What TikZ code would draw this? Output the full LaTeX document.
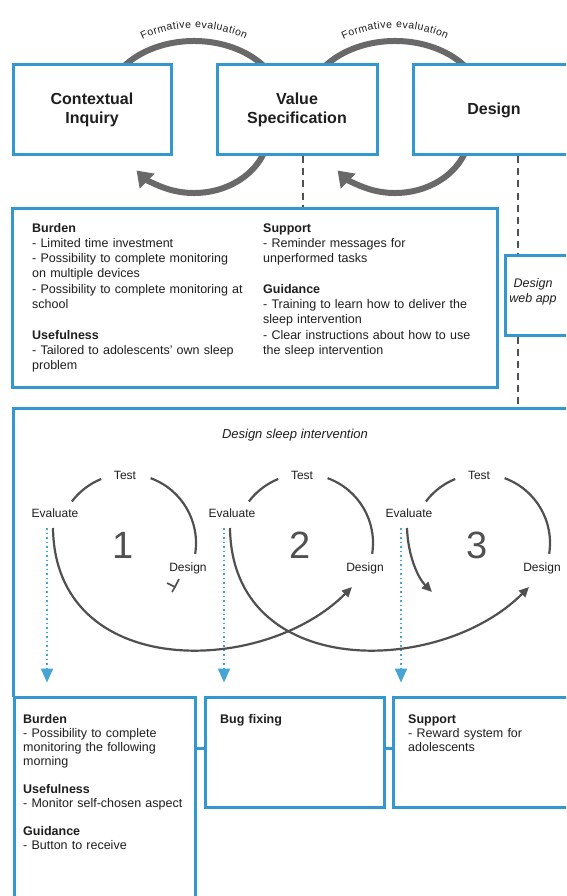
\documentclass[tikz,border=0pt]{standalone}
\usepackage{fontspec}
\setmainfont{Liberation Sans}
\usetikzlibrary{arrows.meta,decorations.text}
\definecolor{bluebox}{RGB}{52,152,208}
\definecolor{dotblue}{RGB}{70,165,215}
\definecolor{arcgray}{RGB}{105,105,105}
\definecolor{loopgray}{RGB}{80,80,80}
\definecolor{txt}{RGB}{30,30,30}
\begin{document}
\begin{tikzpicture}[x=1pt,y=-1pt,
  boxstyle/.style={draw=bluebox,line width=3pt,fill=white,inner sep=0pt},
  bigline/.style={draw=bluebox,line width=3pt},
  thickarc/.style={draw=arcgray,line width=6pt},
  thickarrow/.style={thickarc,-{Triangle[length=15pt,width=20pt]}},
  loopline/.style={draw=loopgray,line width=2.2pt},
  looparrow/.style={loopline,-{Triangle[length=10pt,width=9pt]}},
  dashline/.style={draw=loopgray,line width=2pt,dash pattern=on 7pt off 5pt},
  dotarrow/.style={draw=dotblue,line width=2pt,dash pattern=on 1.5pt off 3pt,-{Triangle[length=14pt,width=12pt]}},
  titletext/.style={font=\fontsize{16}{19.5}\selectfont\bfseries,text=txt,align=center},
  bodytext/.style={font=\fontsize{12.5}{15.3}\selectfont,text=txt,align=left,inner sep=0pt,anchor=base west},
  looplabel/.style={font=\fontsize{12}{14}\selectfont,text=txt,inner sep=1pt},
  digit/.style={font=\fontsize{38}{40}\selectfont,text=loopgray,inner sep=0pt},
]
\useasboundingbox (0,0) rectangle (566,896);
\clip (0,0) rectangle (566,896);
\fill[white] (0,0) rectangle (566,896);

% formative evaluation arcs
\foreach \cx in {194,395}{
  \draw[thickarc] ([shift={(200:88 and 64)}]\cx,105) arc[start angle=200,end angle=340,x radius=88,y radius=64];
  \draw[thickarrow] ([shift={(20:75 and 63)}]\cx,130) arc[start angle=20,end angle=140,x radius=75,y radius=63];
  \path[decorate,decoration={text effects along path,
     text={Formative evaluation},text align=center,
     text effects/.cd,
       text along path,
       character widths={inner xsep=0.35pt},
       characters={text=txt,font=\fontsize{10.5}{12}\selectfont,inner sep=0pt}}]
     ([shift={(200:99 and 77)}]\cx,105) arc[start angle=200,end angle=340,x radius=99,y radius=77];
}

% top boxes
\node[boxstyle,minimum width=158pt,minimum height=90pt,titletext] (ci) at (92,110) {Contextual\\Inquiry};
\node[boxstyle,minimum width=160pt,minimum height=90pt,titletext] (vs) at (297,110) {Value\\Specification};
\node[boxstyle,minimum width=162pt,minimum height=90pt,titletext] (de) at (494,110) {Design};

% requirements box
\node[boxstyle,minimum width=485pt,minimum height=179pt] (req) at (254.5,297.5) {};
\node[bodytext,text width=225pt] (reqL) at (32,232) {\textbf{Burden}\\- Limited time investment\\- Possibility to complete monitoring\\on multiple devices\\- Possibility to complete monitoring at\\school\\[15.3pt]\textbf{Usefulness}\\- Tailored to adolescents' own sleep\\problem};
\node[bodytext,text width=225pt] (reqR) at (263,232) {\textbf{Support}\\- Reminder messages for\\unperformed tasks\\[15.3pt]\textbf{Guidance}\\- Training to learn how to deliver the\\sleep intervention\\- Clear instructions about how to use\\the sleep intervention};

% web app box
\node[boxstyle,minimum width=95pt,minimum height=80pt] (wa) at (552.5,295) {};
\node[font=\fontsize{12.5}{15}\selectfont\itshape,text=txt,align=center] (wat) at (533,292) {Design\\web app};

% dashed connectors
\coordinate (bigtl) at (13,408);
\coordinate (bigbl) at (13,697);
\draw[dashline] ([xshift=6pt]vs.south) -- ([xshift=6pt]vs.south |- req.north);
\draw[dashline] ([xshift=24pt]de.south) -- ([xshift=24pt]de.south |- wa.north);
\draw[dashline] ([xshift=24pt]de.south |- wa.south) -- ([xshift=24pt]de.south |- bigtl);

% big box
\draw[bigline] (bigbl) -- (bigtl) -- (590,408);
\node[font=\fontsize{13}{15}\selectfont\itshape,text=txt] (dsi) at (295,435) {Design sleep intervention};

% cycles
\foreach \k/\d in {0/1,1/2,2/3}{
  \pgfmathsetmacro\ox{177*\k}
  \begin{scope}[shift={(\ox,0)}]
    \node[looplabel] (te\d) at (125,475) {Test};
    \node[looplabel] (ev\d) at (55,513) {Evaluate};
    \node[looplabel] (ds\d) at (188,568) {Design};
    \node[digit] (n\d) at (123,545) {\d};
    \draw[loopline] ([shift={(-143:69)}]127,543) arc[start angle=-143,end angle=-112,radius=69];
    \draw[loopline] ([shift={(-70:69)}]127,543) arc[start angle=-70,end angle=9,radius=69];
    \coordinate (es\d) at (53,528);
    \coordinate (et\d) at (175,587);
  \end{scope}
}
\coordinate (e3end) at (432,592);
\draw[looparrow] (es1) .. controls +(2,152) and +(-90,90) .. (et2);
\draw[looparrow] (es2) .. controls +(2,152) and +(-90,90) .. (et3);
\draw[looparrow] (es3) .. controls +(1,28) and +(-14,-14) .. (e3end);
\draw[loopgray,line width=1.6pt] (et1) ++(-8,-4) -- (et1) -- ++(4,-8) (et1) -- ++(-3,5);

% bottom boxes
\node[boxstyle,minimum width=181pt,minimum height=213pt] (b1) at (104.5,803.5) {};
\node[boxstyle,minimum width=179pt,minimum height=110pt] (b2) at (294.5,752) {};
\node[boxstyle,minimum width=187pt,minimum height=110pt] (b3) at (486.5,752) {};
\coordinate (lk) at (0,748);
\draw[bigline] (b1.east |- lk) -- (b2.west |- lk);
\draw[bigline] (b2.east |- lk) -- (b3.west |- lk);

% dotted arrows
\foreach \d/\x in {1/47,2/224,3/401}{
  \coordinate (dt\d) at (\x,528);
}
\draw[dotarrow,shorten >=13pt] (dt1) -- (dt1 |- b1.north);
\draw[dotarrow,shorten >=13pt] (dt2) -- (dt2 |- b2.north);
\draw[dotarrow,shorten >=13pt] (dt3) -- (dt3 |- b3.north);

% bottom texts
\node[bodytext,font=\fontsize{12.5}{14}\selectfont,text width=170pt] (t1) at (23,723) {\textbf{Burden}\\- Possibility to complete\\monitoring the following\\morning\\[14pt]\textbf{Usefulness}\\- Monitor self-chosen aspect\\[14pt]\textbf{Guidance}\\- Button to receive};
\node[bodytext,font=\fontsize{12.5}{14}\selectfont,text width=160pt] (t2) at (220,723) {\textbf{Bug fixing}};
\node[bodytext,font=\fontsize{12.5}{14}\selectfont,text width=160pt] (t3) at (408,723) {\textbf{Support}\\- Reward system for\\adolescents};
\end{tikzpicture}
\end{document}
